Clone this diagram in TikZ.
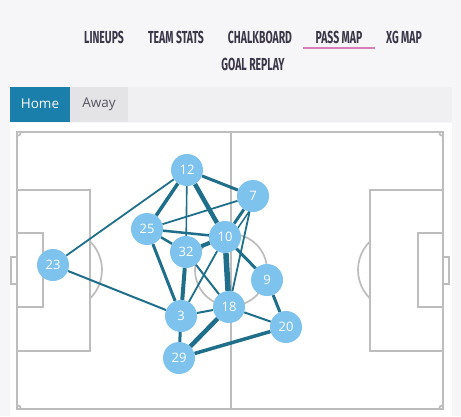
\documentclass[tikz,border=0pt]{standalone}
\usepackage{fontspec}
\setmainfont{Open Sans}
\newfontfamily\menufont{Fira Sans}

\definecolor{pagegray}{HTML}{F6F6F8}
\definecolor{tabband}{HTML}{F0F0F2}
\definecolor{homeblue}{HTML}{1B7FAB}
\definecolor{awaygray}{HTML}{E4E4E6}
\definecolor{linegray}{HTML}{BDBDBD}
\definecolor{passteal}{HTML}{1F6F8B}
\definecolor{playerblue}{HTML}{7DC3EE}
\definecolor{menuink}{HTML}{3B3749}
\definecolor{underpink}{HTML}{D77FB7}

\pgfdeclarelayer{pitch}
\pgfdeclarelayer{passes}
\pgfsetlayers{pitch,passes,main}

\tikzset{
  player/.style={circle, fill=playerblue, text=white, minimum size=32pt,
    inner sep=0pt, font=\fontsize{13}{13}\selectfont},
  pass/.style={draw=passteal, line width=#1},
  pass/.default=1.8pt,
  menu/.style={text=menuink, inner sep=0pt,
    font=\menufont\bfseries\fontsize{17.4}{17.4}\selectfont},
  tab/.style={inner sep=0pt, font=\fontsize{13.5}{13.5}\selectfont},
  chalk/.style={draw=linegray, line width=1.7pt},
}

\begin{document}
\begin{tikzpicture}[x=1pt,y=-1pt]
\useasboundingbox (0,0) rectangle (461,416);

% menu
\node[menu] (lineups) at (104,37) {\scalebox{0.6}[1]{LINEUPS}};
\node[menu] (teamstats) at (176,37) {\scalebox{0.6}[1]{TEAM STATS}};
\node[menu] (chalkboard) at (260,37) {\scalebox{0.6}[1]{CHALKBOARD}};
\node[menu] (passmap) at (339,37) {\scalebox{0.6}[1]{PASS MAP}};
\node[menu] (xgmap) at (404,37) {\scalebox{0.6}[1]{XG MAP}};
\node[menu] (goalreplay) at (253,64) {\scalebox{0.6}[1]{GOAL REPLAY}};
\draw[underpink, line width=2pt] (303,48) -- (375,48);

% tabs
\node[tab, text=white] (home) at (40,104) {Home};
\node[tab, text=menuink!85] (away) at (99,104) {Away};

\begin{pgfonlayer}{pitch}
\fill[pagegray] (0,0) rectangle (461,416);
\fill[tabband] (10,87) rectangle (452,122);
\fill[homeblue] (10,87) rectangle (70,122);
\fill[awaygray] (70,87) rectangle (128,122);
\fill[white] (10,123) rectangle (452,416);

% pitch
\draw[chalk] (17,132) rectangle (443,409);
\draw[chalk] (231,132) -- (231,409);
\draw[chalk] (231,270) circle (36);
\draw[chalk] (17,190) rectangle (90,351);
\draw[chalk] (17,233) rectangle (43,307);
\draw[chalk] (11,257) rectangle (17,284);
\draw[chalk] (90,241.4) arc[start angle=-45.57, end angle=45.57, radius=40];
\draw[chalk] (370,190) rectangle (443,351);
\draw[chalk] (418,233) rectangle (443,307);
\draw[chalk] (443,257) rectangle (449,284);
\draw[chalk] (370,241.4) arc[start angle=225.57, end angle=134.43, radius=40];
\draw[chalk] (17,136) arc[start angle=90, end angle=0, radius=4];
\draw[chalk] (439,132) arc[start angle=180, end angle=90, radius=4];
\draw[chalk] (17,405) arc[start angle=-90, end angle=0, radius=4];
\draw[chalk] (439,409) arc[start angle=180, end angle=270, radius=4];
\end{pgfonlayer}

% players
\node[player] (p12) at (187,170) {12};
\node[player] (p7) at (253,196) {7};
\node[player] (p25) at (147,229) {25};
\node[player] (p10) at (225,237) {10};
\node[player] (p32) at (186,252) {32};
\node[player] (p23) at (53,265) {23};
\node[player] (p9) at (267,280) {9};
\node[player] (p3) at (181,316) {3};
\node[player] (p18) at (229,307) {18};
\node[player] (p20) at (286,327) {20};
\node[player] (p29) at (179,358) {29};

% passes
\begin{pgfonlayer}{passes}
\foreach \a/\b/\w in {p12/p7/3pt, p12/p25/3.5pt, p12/p23/1.8pt,
    p12/p32/1.6pt, p12/p10/4.5pt, p7/p25/1.8pt, p7/p10/3pt, p7/p18/1.8pt,
    p25/p10/2.5pt, p32/p10/4pt, p25/p32/2.5pt, p25/p3/3pt, p32/p3/4pt,
    p32/p18/2pt, p10/p3/1.8pt, p10/p18/5.5pt, p10/p9/3pt, p9/p20/3pt,
    p18/p3/2pt, p18/p20/2pt, p18/p29/4.5pt, p3/p29/3pt, p3/p23/2pt,
    p29/p20/3.5pt}
  \draw[pass=\w] (\a) -- (\b);
\draw[pass=1.5pt] ([shift={(4,4)}]p7.center) -- ([shift={(4,4)}]p10.center);
\end{pgfonlayer}
\end{tikzpicture}
\end{document}
